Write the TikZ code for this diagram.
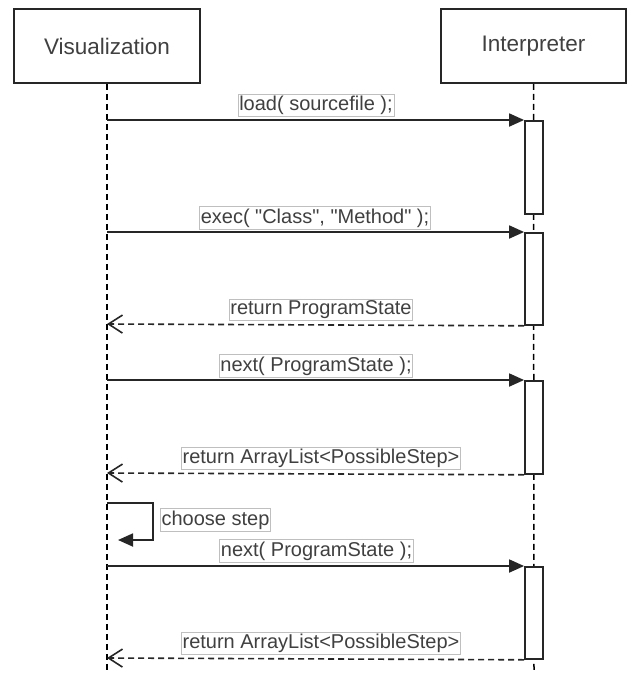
\documentclass[tikz,border=0pt]{standalone}
\usepackage{fontspec}
\setmainfont{Liberation Sans}
\newfontfamily\lblfont{Liberation Sans}
\usetikzlibrary{arrows.meta}
\begin{document}
\begin{tikzpicture}[x=1pt,y=-1pt,
  header/.style={draw=black!85, line width=1.8pt, fill=white, minimum width=186pt, minimum height=74pt, font=\lblfont\fontsize{22.5}{25}\selectfont, text=black!75, inner sep=0pt},
  life/.style={draw=black, line width=1.5pt, dash pattern=on 6pt off 4pt},
  act/.style={draw=black!85, line width=1.8pt, fill=white, minimum width=18pt, inner sep=0pt, anchor=north},
  msg/.style={draw=black!85, line width=1.8pt, -{Triangle[length=15pt,width=13pt]}},
  ret/.style={draw=black!85, line width=1.6pt, dash pattern=on 6pt off 4pt, -{Straight Barb[length=14pt,width=18pt,line width=1.6pt]}},
  lbl/.style={draw=black!25, line width=0.8pt, fill=white, text=black!75, font=\lblfont\fontsize{20}{23}\selectfont, inner xsep=1.2pt, inner ysep=1.8pt}
]
\useasboundingbox (0,0) rectangle (628,675);
\node[header] (vis) at (107,46) {Visualization};
\node[header, minimum width=185pt] (int) at (533.5,46) {Interpreter};
\coordinate (vend) at (107,673);
\coordinate (iend) at (534,673);
\draw[life] (vis.south) -- (vend);
\draw[life] (int.south) -- (iend);
% activation boxes
\node[act, minimum height=93pt] (a1) at (534,120) {};
\node[act, minimum height=92pt] (a2) at (534,232) {};
\node[act, minimum height=93pt] (a3) at (534,380) {};
\node[act, minimum height=92pt] (a4) at (534,566) {};
% lifeline points
\coordinate (v1) at (107,120);
\coordinate (v2) at (107,232);
\coordinate (v3) at (107,324);
\coordinate (v4) at (107,380);
\coordinate (v5) at (107,473);
\coordinate (s0) at (107,503);
\coordinate (s1) at (118,540);
\coordinate (v6) at (107,566);
\coordinate (v7) at (107,658);
% messages
\draw[msg] (v1) -- (a1.north west);
\draw[msg] (v2) -- (a2.north west);
\draw[ret] (a2.south west) -- (v3);
\draw[msg] (v4) -- (a3.north west);
\draw[ret] (a3.south west) -- (v5);
\draw[msg] (s0) -- ++(46,0) |- (s1);
\draw[msg] (v6) -- (a4.north west);
\draw[ret] (a4.south west) -- (v7);
% labels
\node[lbl] (l1) at (316,105.5) {load( sourcefile );};
\node[lbl] (l2) at (315,218) {exec( "Class", "Method" );};
\node[lbl] (l3) at (321,310) {return ProgramState};
\node[lbl] (l4) at (316,366) {next( ProgramState );};
\node[lbl] (l5) at (321,458.5) {return ArrayList<PossibleStep>};
\node[lbl, anchor=west] (l6) at (160,520) {choose step};
\node[lbl] (l7) at (316.5,551) {next( ProgramState );};
\node[lbl] (l8) at (321,643.5) {return ArrayList<PossibleStep>};
\end{tikzpicture}
\end{document}
